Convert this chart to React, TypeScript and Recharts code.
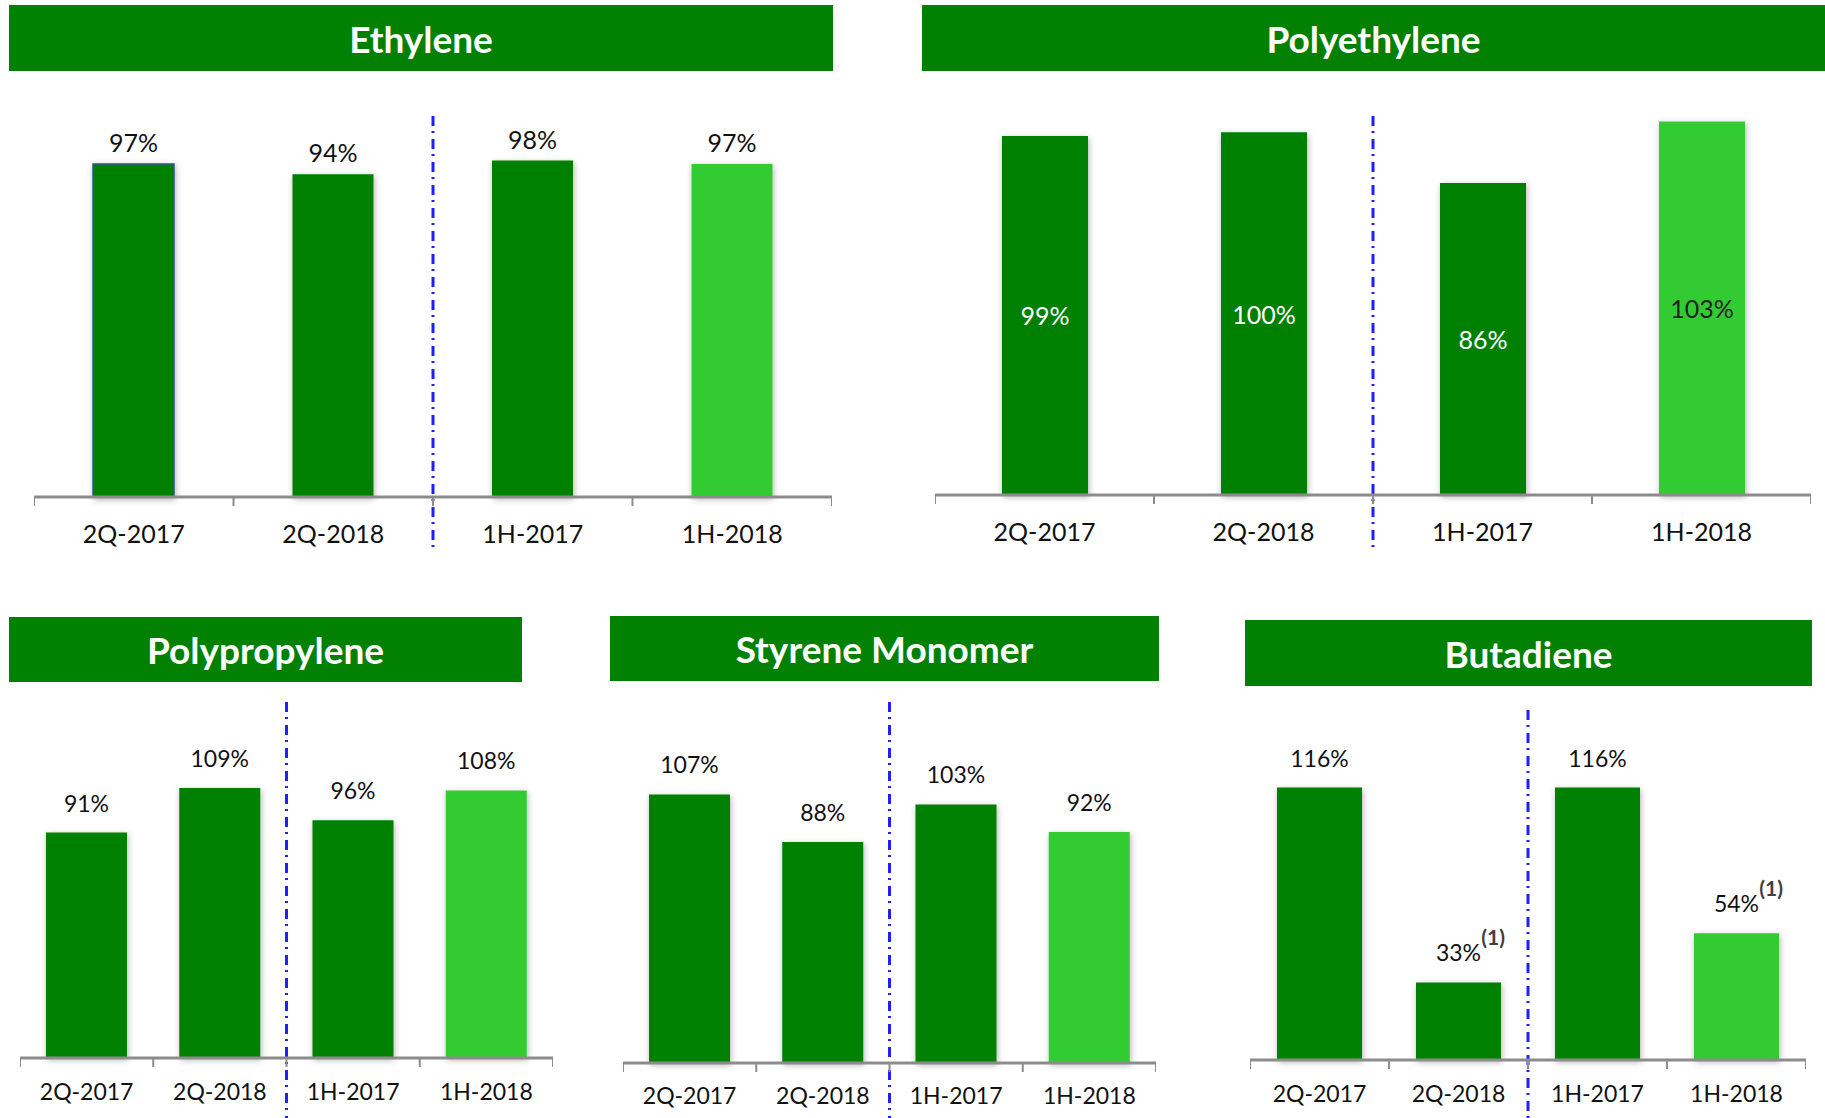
import React from "react";
import { BarChart, Bar, Cell, XAxis, YAxis, ReferenceLine, LabelList } from "recharts";

// periods shown on every panel
const categories = ["2Q-2017", "2Q-2018", "1H-2017", "1H-2018"];

// utilization rates (%)
const ethylene = [97, 94, 98, 97];
const polyethylene = [99, 100, 86, 103];
const polypropylene = [91, 109, 96, 108];
const styrene = [107, 88, 103, 92];
const butadiene = [116, 33, 116, 54];
const butadieneNotes = ["", "(1)", "", "(1)"];

const DARK = "#018001";
const LIGHT = "#33CC33";
const barColors = [DARK, DARK, DARK, LIGHT];
const FONT = "Lato, 'Open Sans', sans-serif";

function AxisTick(props: any) {
  const { x, y, payload, index, visibleTicksCount, width, fontSize, labelDy } = props;
  const half = payload?.offset ?? width / visibleTicksCount / 2;
  return (
    <g>
      <line x1={x - half} y1={y} x2={x - half} y2={y + 9} stroke="#8c8c8c" strokeWidth={2} />
      {index === visibleTicksCount - 1 && (
        <line x1={x + half} y1={y} x2={x + half} y2={y + 9} stroke="#8c8c8c" strokeWidth={2} />
      )}
      <text
        x={x}
        y={y + labelDy}
        textAnchor="middle"
        dominantBaseline="central"
        fontSize={fontSize}
        fontFamily={FONT}
        fill="#111"
      >
        {payload.value}
      </text>
    </g>
  );
}

function Divider(props: any) {
  const { x1, y1, x2, y2, extend } = props;
  const top = Math.min(y1, y2);
  const bottom = Math.max(y1, y2) + extend;
  return (
    <line
      x1={x1}
      x2={x2}
      y1={top}
      y2={bottom}
      stroke="#1f1fff"
      strokeWidth={3}
      strokeDasharray="10 5 2 6"
    />
  );
}

interface PanelProps {
  id: string;
  title: string;
  values: number[];
  notes?: string[];
  header: { left: number; top: number; width: number; height: number };
  left: number;
  top: number;
  width: number;
  plotH: number;
  max: number;
  barSize: number;
  inside?: boolean;
  gap: number;
  fontSize: number;
  labelDy: number;
  extend: number;
}

function Panel(p: PanelProps) {
  const rows = categories.map((name, i) => ({ name, value: p.values[i] }));

  const renderLabel = (props: any) => {
    const vb = props.viewBox || props;
    const x = vb.x ?? props.x;
    const y = vb.y ?? props.y;
    const w = vb.width ?? props.width;
    const h = vb.height ?? props.height;
    const idx = props.index ?? 0;
    const cx = x + w / 2;
    const text = `${props.value}%`;
    if (p.inside) {
      return (
        <text
          x={cx}
          y={y + h / 2}
          textAnchor="middle"
          dominantBaseline="central"
          fontSize={p.fontSize}
          fontFamily={FONT}
          fill={barColors[idx] === LIGHT ? "#222" : "#fff"}
        >
          {text}
        </text>
      );
    }
    const note = p.notes ? p.notes[idx] : "";
    const halfW = (String(props.value).length * 0.58 + 0.82) * p.fontSize / 2;
    return (
      <g>
        <text
          x={cx}
          y={y - p.gap}
          textAnchor="middle"
          fontSize={p.fontSize}
          fontFamily={FONT}
          fill="#111"
        >
          {text}
        </text>
        {note && (
          <text
            x={cx + halfW}
            y={y - p.gap - 16}
            textAnchor="start"
            fontSize={21}
            fontWeight="bold"
            fontFamily={FONT}
            fill="#404040"
          >
            {note}
          </text>
        )}
      </g>
    );
  };

  return (
    <>
      <div
        style={{
          position: "absolute",
          left: p.header.left,
          top: p.header.top,
          width: p.header.width,
          height: p.header.height,
          background: DARK,
          color: "#fff",
          fontFamily: FONT,
          fontWeight: 700,
          fontSize: 37,
          display: "flex",
          alignItems: "center",
          justifyContent: "center",
        }}
      >
        {p.title}
      </div>
      <div style={{ position: "absolute", left: p.left, top: p.top }}>
        <BarChart
          width={p.width}
          height={p.plotH + 70}
          data={rows}
          margin={{ top: 0, right: 0, bottom: 0, left: 0 }}
        >
          <defs>
            <filter id={`shadow-${p.id}`} x="-20%" y="-5%" width="140%" height="115%">
              <feDropShadow dx="1" dy="2" stdDeviation="3" floodColor="#000" floodOpacity="0.3" />
            </filter>
          </defs>
          <XAxis
            dataKey="name"
            height={70}
            interval={0}
            tickSize={0}
            tickMargin={0}
            axisLine={{ stroke: "#8c8c8c", strokeWidth: 3 }}
            tick={<AxisTick fontSize={p.fontSize} labelDy={p.labelDy} />}
          />
          <YAxis hide domain={[0, p.max]} />
          <Bar
            dataKey="value"
            barSize={p.barSize}
            isAnimationActive={false}
            filter={`url(#shadow-${p.id})`}
          >
            {rows.map((r, i) => (
              <Cell
                key={r.name}
                fill={barColors[i]}
                stroke={p.id === "eth" && i === 0 ? "#2F5597" : "none"}
                strokeWidth={1.5}
              />
            ))}
            <LabelList dataKey="value" content={renderLabel} />
          </Bar>
          <ReferenceLine
            x={categories[1]}
            position="end"
            shape={(sp: any) => <Divider {...sp} extend={p.extend} />}
          />
        </BarChart>
      </div>
    </>
  );
}

export default function App() {
  return (
    <div
      style={{
        position: "absolute",
        left: 0,
        top: 0,
        width: 1825,
        height: 1118,
        overflow: "hidden",
        background: "#fff",
      }}
    >
      <Panel
        id="eth"
        title="Ethylene"
        values={ethylene}
        header={{ left: 9, top: 5, width: 824, height: 66 }}
        left={34}
        top={116}
        width={798}
        plotH={381}
        max={111}
        barSize={81}
        gap={12}
        fontSize={25}
        labelDy={36}
        extend={50}
      />
      <Panel
        id="pe"
        title="Polyethylene"
        values={polyethylene}
        header={{ left: 922, top: 5, width: 903, height: 66 }}
        left={935}
        top={116}
        width={876}
        plotH={379}
        max={104.5}
        barSize={86}
        inside
        gap={12}
        fontSize={25}
        labelDy={36}
        extend={52}
      />
      <Panel
        id="pp"
        title="Polypropylene"
        values={polypropylene}
        header={{ left: 9, top: 617, width: 513, height: 65 }}
        left={20}
        top={702}
        width={533}
        plotH={356}
        max={143.7}
        barSize={81}
        gap={21}
        fontSize={23}
        labelDy={33}
        extend={60}
      />
      <Panel
        id="sm"
        title="Styrene Monomer"
        values={styrene}
        header={{ left: 610, top: 616, width: 549, height: 65 }}
        left={623}
        top={702}
        width={533}
        plotH={361}
        max={143.8}
        barSize={81}
        gap={21}
        fontSize={23}
        labelDy={32}
        extend={55}
      />
      <Panel
        id="bd"
        title="Butadiene"
        values={butadiene}
        notes={butadieneNotes}
        header={{ left: 1245, top: 620, width: 567, height: 66 }}
        left={1250}
        top={710}
        width={556}
        plotH={350}
        max={149}
        barSize={85}
        gap={21}
        fontSize={23}
        labelDy={33}
        extend={58}
      />
    </div>
  );
}
